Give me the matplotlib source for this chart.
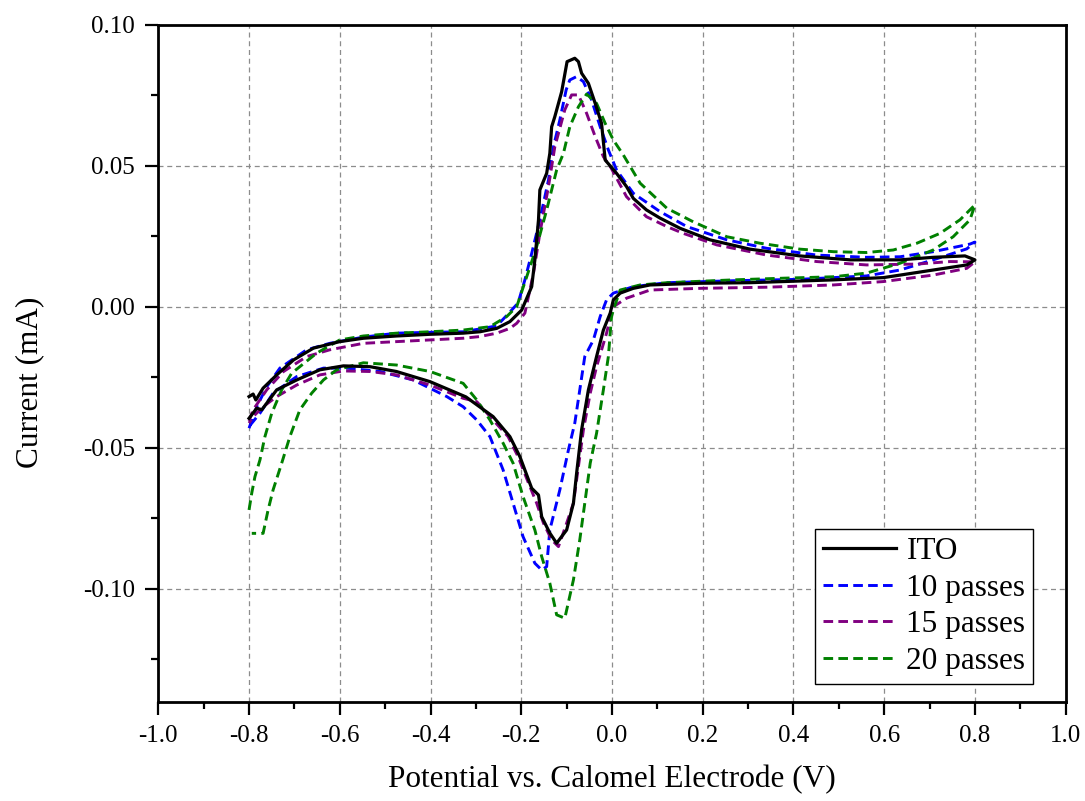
import matplotlib
matplotlib.use("Agg")
import matplotlib.pyplot as plt
from matplotlib.ticker import MultipleLocator, FormatStrFormatter

plt.rcParams["font.family"] = ["Liberation Serif", "DejaVu Serif"]

# ---- cyclic voltammograms: anodic sweep (-0.8 -> 0.8 V) then cathodic sweep back ----
ito_fwd_v = [-0.800, -0.791, -0.785, -0.769, -0.739, -0.702, -0.658, -0.600, -0.548, -0.475,
             -0.401, -0.328, -0.291, -0.254, -0.225, -0.199, -0.177, -0.170, -0.162, -0.159,
             -0.144, -0.137, -0.133, -0.126, -0.111, -0.099, -0.082, -0.074, -0.067, -0.052,
             -0.037, -0.023, -0.015, 0.010, 0.032, 0.047, 0.076, 0.106, 0.150, 0.216,
             0.304, 0.414, 0.525, 0.635, 0.708, 0.778, 0.800]
ito_fwd_i = [-0.0318, -0.0309, -0.0330, -0.0288, -0.0241, -0.0188, -0.0146, -0.0123, -0.0111, -0.0103,
             -0.0097, -0.0093, -0.0088, -0.0076, -0.0052, -0.0011, 0.0072, 0.0167, 0.0309, 0.0415,
             0.0474, 0.0545, 0.0639, 0.0675, 0.0763, 0.0870, 0.0882, 0.0870, 0.0829, 0.0793,
             0.0722, 0.0651, 0.0521, 0.0474, 0.0427, 0.0385, 0.0344, 0.0315, 0.0279, 0.0238,
             0.0205, 0.0181, 0.0167, 0.0167, 0.0176, 0.0181, 0.0167]
ito_rev_v = [0.782, 0.708, 0.635, 0.598, 0.488, 0.414, 0.304, 0.194, 0.084, 0.047,
             0.018, 0.003, -0.004, -0.019, -0.034, -0.052, -0.067, -0.078, -0.085, -0.100,
             -0.122, -0.137, -0.155, -0.162, -0.177, -0.203, -0.225, -0.262, -0.322, -0.401,
             -0.475, -0.533, -0.592, -0.644, -0.695, -0.739, -0.772, -0.783, -0.800]
ito_rev_i = [0.0149, 0.0131, 0.0113, 0.0104, 0.0096, 0.0092, 0.0086, 0.0084, 0.0078, 0.0066,
             0.0049, 0.0025, -0.0022, -0.0082, -0.0176, -0.0294, -0.0436, -0.0590, -0.0696, -0.0791,
             -0.0838, -0.0802, -0.0744, -0.0667, -0.0643, -0.0531, -0.0460, -0.0389, -0.0319, -0.0265,
             -0.0229, -0.0212, -0.0209, -0.0223, -0.0259, -0.0294, -0.0365, -0.0359, -0.0395]

p10_fwd_v = [-0.800, -0.783, -0.761, -0.732, -0.673, -0.622, -0.548, -0.475, -0.401, -0.328,
             -0.291, -0.254, -0.229, -0.207, -0.192, -0.177, -0.159, -0.140, -0.129, -0.115,
             -0.101, -0.093, -0.078, -0.063, -0.045, -0.026, -0.008, 0.010, 0.047, 0.106,
             0.165, 0.253, 0.341, 0.451, 0.561, 0.635, 0.708, 0.789, 0.800]
p10_fwd_i = [-0.0430, -0.0354, -0.0283, -0.0217, -0.0152, -0.0129, -0.0107, -0.0093, -0.0090, -0.0088,
             -0.0078, -0.0067, -0.0025, 0.0014, 0.0096, 0.0190, 0.0309, 0.0450, 0.0568, 0.0663,
             0.0770, 0.0805, 0.0817, 0.0799, 0.0734, 0.0639, 0.0557, 0.0486, 0.0403, 0.0338,
             0.0285, 0.0238, 0.0208, 0.0184, 0.0176, 0.0178, 0.0196, 0.0223, 0.0230]
p10_rev_v = [0.782, 0.708, 0.635, 0.561, 0.414, 0.267, 0.121, 0.047, 0.003, -0.012,
             -0.026, -0.041, -0.060, -0.071, -0.082, -0.096, -0.115, -0.137, -0.144, -0.155,
             -0.170, -0.196, -0.218, -0.240, -0.269, -0.298, -0.328, -0.364, -0.438, -0.511,
             -0.585, -0.636, -0.695, -0.747, -0.776, -0.800]
p10_rev_i = [0.0206, 0.0167, 0.0131, 0.0110, 0.0098, 0.0093, 0.0086, 0.0072, 0.0049, 0.0025,
             -0.0034, -0.0117, -0.0176, -0.0294, -0.0412, -0.0507, -0.0649, -0.0791, -0.0921, -0.0933,
             -0.0909, -0.0815, -0.0696, -0.0578, -0.0460, -0.0401, -0.0354, -0.0318, -0.0259, -0.0229,
             -0.0217, -0.0217, -0.0247, -0.0306, -0.0377, -0.0424]

p15_fwd_v = [-0.800, -0.791, -0.761, -0.724, -0.673, -0.622, -0.548, -0.475, -0.401, -0.328,
             -0.291, -0.254, -0.225, -0.210, -0.192, -0.173, -0.159, -0.140, -0.126, -0.104,
             -0.089, -0.074, -0.056, -0.037, -0.019, -0.002, 0.032, 0.076, 0.121, 0.157,
             0.231, 0.341, 0.451, 0.561, 0.672, 0.745, 0.800]
p15_fwd_i = [-0.0404, -0.0365, -0.0294, -0.0229, -0.0176, -0.0152, -0.0129, -0.0123, -0.0117, -0.0111,
             -0.0105, -0.0093, -0.0076, -0.0058, -0.0022, 0.0120, 0.0261, 0.0427, 0.0568, 0.0699,
             0.0752, 0.0752, 0.0687, 0.0604, 0.0533, 0.0493, 0.0391, 0.0320, 0.0285, 0.0261,
             0.0220, 0.0184, 0.0161, 0.0149, 0.0152, 0.0161, 0.0160]
p15_rev_v = [0.782, 0.708, 0.598, 0.488, 0.341, 0.194, 0.084, 0.032, 0.003, -0.002,
             -0.012, -0.034, -0.048, -0.063, -0.074, -0.085, -0.100, -0.118, -0.133, -0.151,
             -0.166, -0.184, -0.207, -0.229, -0.262, -0.298, -0.328, -0.401, -0.475, -0.533,
             -0.592, -0.644, -0.695, -0.739, -0.769, -0.791, -0.800]
p15_rev_i = [0.0137, 0.0113, 0.0090, 0.0078, 0.0070, 0.0066, 0.0060, 0.0031, 0.0001, -0.0028,
             -0.0093, -0.0212, -0.0306, -0.0436, -0.0566, -0.0696, -0.0767, -0.0850, -0.0826, -0.0767,
             -0.0696, -0.0625, -0.0531, -0.0460, -0.0401, -0.0336, -0.0324, -0.0277, -0.0241, -0.0229,
             -0.0227, -0.0241, -0.0277, -0.0318, -0.0354, -0.0389, -0.0412]

p20_fwd_v = [-0.800, -0.794, -0.787, -0.776, -0.765, -0.750, -0.728, -0.706, -0.651, -0.600,
             -0.548, -0.475, -0.401, -0.328, -0.269, -0.232, -0.210, -0.188, -0.166, -0.144,
             -0.122, -0.107, -0.093, -0.074, -0.056, -0.034, -0.015, 0.003, 0.025, 0.062,
             0.121, 0.179, 0.253, 0.326, 0.414, 0.488, 0.561, 0.620, 0.672, 0.723,
             0.767, 0.800]
p20_fwd_i = [-0.0720, -0.0660, -0.0602, -0.0543, -0.0460, -0.0377, -0.0294, -0.0235, -0.0164, -0.0117,
             -0.0103, -0.0093, -0.0088, -0.0082, -0.0070, -0.0034, 0.0001, 0.0107, 0.0214, 0.0344,
             0.0486, 0.0545, 0.0639, 0.0710, 0.0755, 0.0722, 0.0651, 0.0592, 0.0539, 0.0439,
             0.0350, 0.0302, 0.0249, 0.0226, 0.0205, 0.0196, 0.0193, 0.0202, 0.0226, 0.0261,
             0.0309, 0.0362]
p20_rev_v = [0.789, 0.752, 0.708, 0.635, 0.561, 0.488, 0.378, 0.267, 0.121, 0.062,
             0.018, 0.003, -0.001, -0.008, -0.019, -0.034, -0.048, -0.060, -0.071, -0.085,
             -0.104, -0.122, -0.137, -0.155, -0.170, -0.196, -0.218, -0.240, -0.269, -0.298,
             -0.328, -0.401, -0.475, -0.548, -0.607, -0.636, -0.662, -0.688, -0.710, -0.728,
             -0.747, -0.758, -0.769, -0.794]
p20_rev_i = [0.0309, 0.0249, 0.0202, 0.0155, 0.0120, 0.0107, 0.0102, 0.0096, 0.0086, 0.0078,
             0.0060, -0.0011, -0.0034, -0.0176, -0.0294, -0.0448, -0.0554, -0.0696, -0.0826, -0.0968,
             -0.1104, -0.1092, -0.0980, -0.0885, -0.0791, -0.0673, -0.0554, -0.0483, -0.0401, -0.0330,
             -0.0271, -0.0229, -0.0206, -0.0198, -0.0223, -0.0259, -0.0306, -0.0365, -0.0460, -0.0554,
             -0.0649, -0.0720, -0.0803, -0.0803]

series_labels = ["ITO", "10 passes", "15 passes", "20 passes"]
series_colors = ["black", "#0000FF", "#800080", "#008000"]

x_ticks = [-1.0, -0.8, -0.6, -0.4, -0.2, 0.0, 0.2, 0.4, 0.6, 0.8, 1.0]
y_ticks = [-0.10, -0.05, 0.00, 0.05, 0.10]

curves = [
    (ito_fwd_v + ito_rev_v, ito_fwd_i + ito_rev_i),
    (p10_fwd_v + p10_rev_v, p10_fwd_i + p10_rev_i),
    (p15_fwd_v + p15_rev_v, p15_fwd_i + p15_rev_i),
    (p20_fwd_v + p20_rev_v, p20_fwd_i + p20_rev_i),
]

fig = plt.figure(figsize=(10.85, 8.01), dpi=100)
ax = fig.add_axes([0.1459, 0.124, 0.8363, 0.8448])

for (v, i), lab, col in zip(curves, series_labels, series_colors):
    if lab == "ITO":
        ax.plot(v, i, color=col, lw=2.3, label=lab, zorder=5)
    else:
        ax.plot(v, i, color=col, lw=2.1, dashes=(3.3, 1.8), label=lab, zorder=4)

ax.set_xlim(-1.0, 1.0)
ax.set_ylim(-0.14, 0.10)
ax.set_xticks(x_ticks)
ax.set_yticks(y_ticks)
ax.xaxis.set_major_formatter(FormatStrFormatter("%.1f"))
ax.yaxis.set_major_formatter(FormatStrFormatter("%.2f"))
ax.xaxis.set_minor_locator(MultipleLocator(0.1))
ax.yaxis.set_minor_locator(MultipleLocator(0.025))

ax.tick_params(which="major", direction="out", length=9.6, width=1.6, labelsize=18,
               top=False, right=False, pad=7)
ax.tick_params(which="minor", direction="out", length=5, width=1.6, top=False, right=False)

for sp in ax.spines.values():
    sp.set_linewidth(2.0)

ax.grid(True, which="major", color="#8c8c8c", lw=0.9, dashes=(4, 3))
ax.set_axisbelow(True)

ax.set_xlabel("Potential vs. Calomel Electrode (V)", fontsize=22.5)
ax.set_ylabel("Current (mA)", fontsize=22.5)
ax.xaxis.set_label_coords(0.5, -0.0935)
ax.yaxis.set_label_coords(-0.126, 0.4725)

leg = ax.legend(loc="lower right", bbox_to_anchor=(0.9643, 0.0262), borderaxespad=0,
                fontsize=22.5, frameon=True, fancybox=False, framealpha=1,
                edgecolor="black", handlelength=2.35, handletextpad=0.32,
                labelspacing=0.25, borderpad=0.25)
leg.get_frame().set_linewidth(1.0)

fig.savefig("out.png", dpi=100)
